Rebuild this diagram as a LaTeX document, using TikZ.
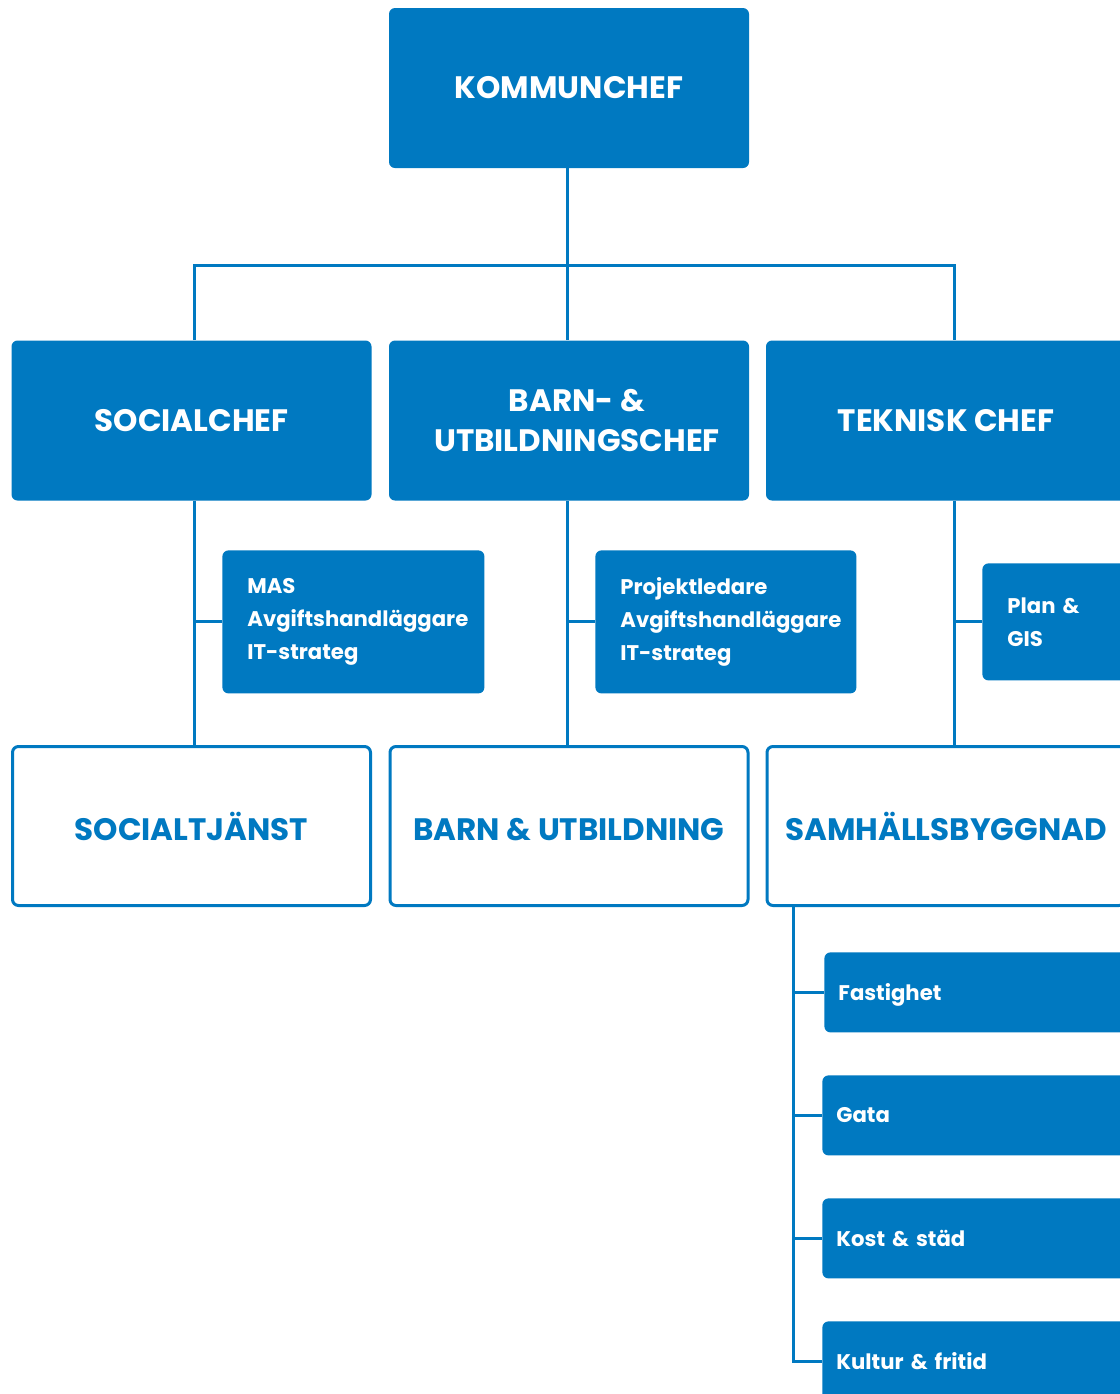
\documentclass[tikz,border=0pt]{standalone}
\usepackage{fontspec}
\setmainfont{Poppins}
\usetikzlibrary{positioning}
\definecolor{orgBlue}{HTML}{0079C1}

\begin{document}
\begin{tikzpicture}[
    x=0.5pt, y=-0.5pt,
    chief/.style={rectangle, fill=orgBlue, rounded corners=3pt, minimum width=180pt, minimum height=80pt, inner sep=0pt, align=center, text=white, font=\fontsize{15.5}{20}\selectfont\bfseries},
    unit/.style={rectangle, draw=orgBlue, line width=1.5pt, fill=white, rounded corners=3pt, minimum width=179pt, minimum height=79.5pt, inner sep=0pt, align=center, text=orgBlue, text height=14pt, text depth=0pt, font=\fontsize{15.5}{20}\selectfont\bfseries},
    staff/.style={rectangle, fill=orgBlue, rounded corners=3pt, anchor=north west, inner xsep=12.5pt, inner ysep=0pt, align=left, text=white, font=\fontsize{10.6}{16.5}\selectfont\bfseries},
    dept/.style={staff, inner xsep=7pt, minimum height=40pt, text width=150pt, text depth=0pt},
    conn/.style={draw=orgBlue, line width=1.5pt}
]

% Frame
\useasboundingbox (0,0) rectangle (1120,1394);
\fill[white] (0,0) rectangle (1120,1394);
\clip (0,0) rectangle (1120,1394);

% Column lines
\coordinate (bus) at (567,265);
\coordinate (colA) at (194,0);
\coordinate (colB) at (567,0);
\coordinate (colC) at (954,0);
\coordinate (colD) at (793,0);

% Chiefs
\node[chief] (kommunchef) at (569,88) {\raisebox{-1.5pt}{KOMMUNCHEF}};
\node[chief] (socialchef) at (191.5,420.5) {\raisebox{-1.5pt}{SOCIALCHEF}};
\node[chief] (barnchef) at (569,420.5) {\hspace*{8pt}\raisebox{-2.5pt}{BARN- \&}\\\hspace*{8pt}\raisebox{-2.5pt}{UTBILDNINGSCHEF}};
\node[chief] (teknisk) at (946,420.5) {\raisebox{-2pt}{TEKNISK CHEF}};

% Staff
\node[staff, text width=106pt, minimum height=71.5pt] (mas) at (222,550) {MAS\\Avgiftshandläggare\\IT-strateg};
\node[staff, text width=105.5pt, minimum height=71.5pt] (projekt) at (595,550) {Projektledare\\Avgiftshandläggare\\IT-strateg};
\node[staff, text width=80pt, minimum height=58.5pt] (plan) at (982,563) {Plan \&\\GIS};

% Units
\node[unit] (socialtj) at (191.5,826) {SOCIALTJÄNST};
\node[unit] (barnutb) at (569,826) {BARN \& UTBILDNING};
\node[unit] (samhall) at (946,826) {SAMHÄLLSBYGGNAD};

% Departments
\node[dept] (fastighet) at (824,952) {Fastighet};
\node[dept] (gata) at (822,1075) {Gata};
\node[dept] (kost) at (822,1198) {Kost \& städ};
\node[dept] (kultur) at (822,1321) {Kultur \& fritid};

% Connectors
\draw[conn] (kommunchef.south -| bus) -- (bus);
\draw[conn] (socialchef.north -| colA) |- (bus) -| (teknisk.north -| colC);
\draw[conn] (bus) -- (barnchef.north -| bus);

\draw[conn] (socialchef.south -| colA) -- (socialtj.north -| colA);
\draw[conn] (mas.west) -- (mas.west -| colA);
\draw[conn] (barnchef.south -| colB) -- (barnutb.north -| colB);
\draw[conn] (projekt.west) -- (projekt.west -| colB);
\draw[conn] (teknisk.south -| colC) -- (samhall.north -| colC);
\draw[conn] (plan.west) -- (plan.west -| colC);

\draw[conn] (samhall.south -| colD) |- (kultur.west);
\draw[conn] (fastighet.west) -- (fastighet.west -| colD);
\draw[conn] (gata.west) -- (gata.west -| colD);
\draw[conn] (kost.west) -- (kost.west -| colD);

\end{tikzpicture}
\end{document}
